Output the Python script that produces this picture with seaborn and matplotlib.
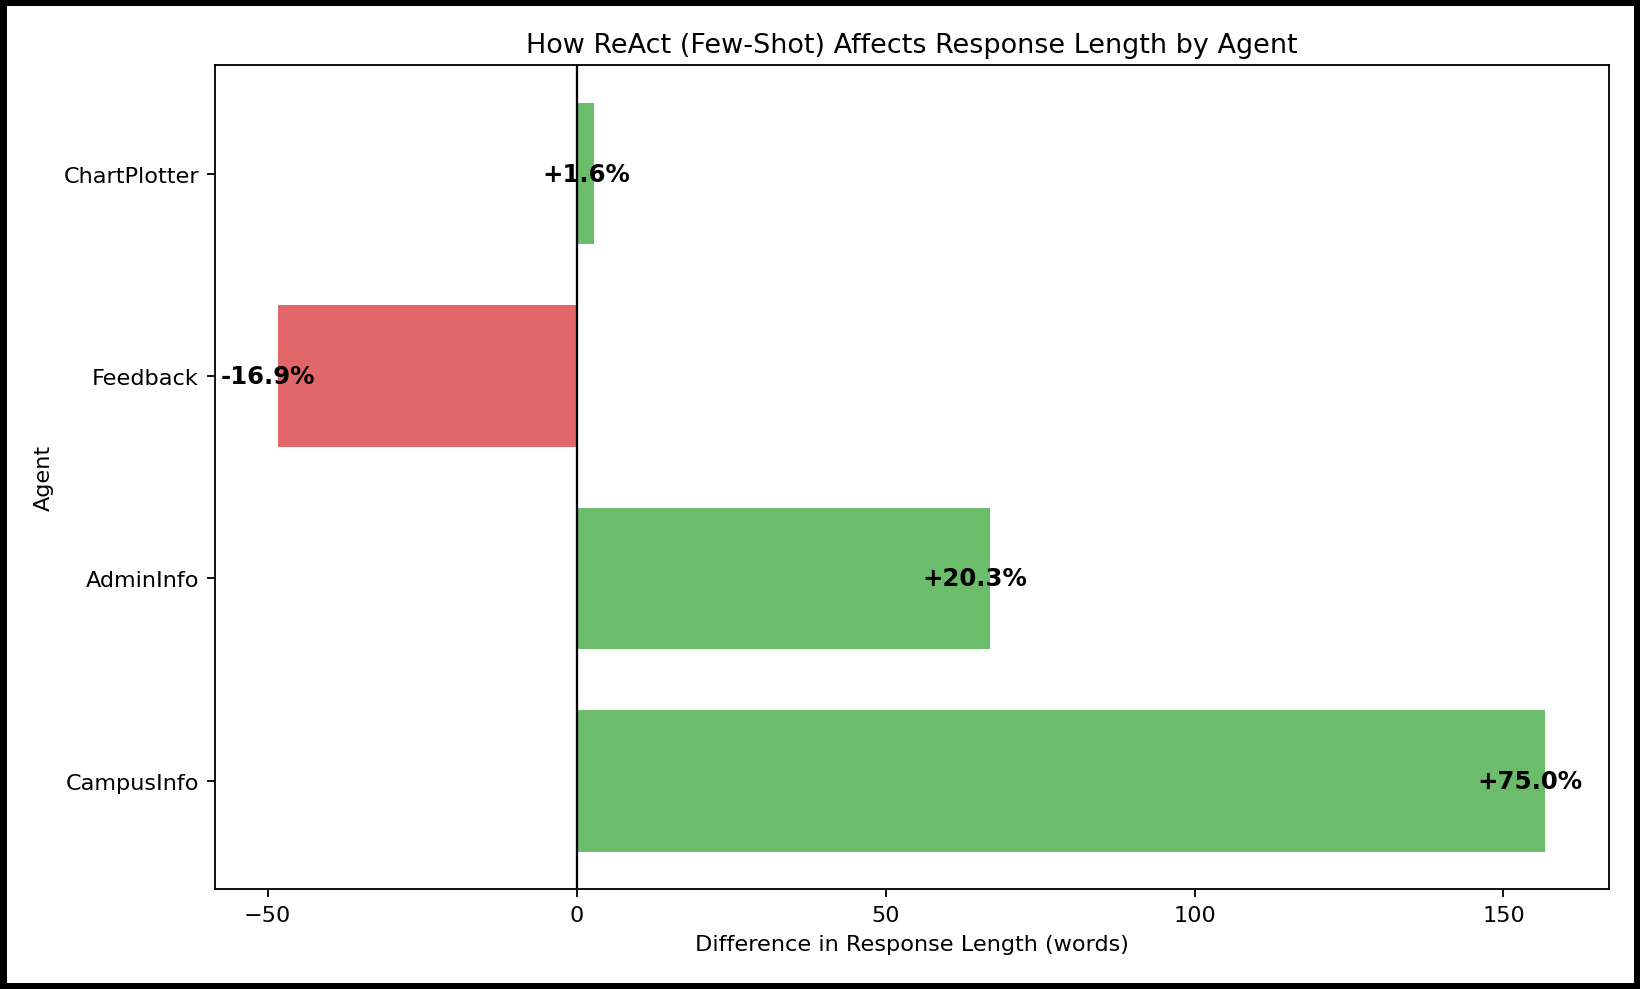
import matplotlib
matplotlib.use("Agg")
import matplotlib.pyplot as plt
import seaborn as sns
import pandas as pd

agents = ["ChartPlotter", "Feedback", "AdminInfo", "CampusInfo"]
diff_words = [2.75, -48.3, 66.9, 156.8]
pct_change = [1.6, -16.9, 20.3, 75.0]

df = pd.DataFrame({"Agent": agents, "Diff": diff_words, "Pct": pct_change})
colors = {a: ("tab:green" if d >= 0 else "tab:red") for a, d in zip(agents, diff_words)}

fig, ax = plt.subplots(figsize=(10, 990 / 164), dpi=164)
fig.subplots_adjust(left=0.131, right=0.981, top=0.933, bottom=0.101)

sns.barplot(data=df, y="Agent", x="Diff", hue="Agent", palette=colors,
            order=agents, orient="h", width=0.7, alpha=0.7, legend=False,
            saturation=1, ax=ax, errorbar=None)

ax.axvline(0, color="black", linewidth=1)

for i, (d, p) in enumerate(zip(diff_words, pct_change)):
    ax.text(d + 6, i, f"{p:+.1f}%", ha="right", va="center",
            fontsize=10.7, fontweight="bold", color="black")

ax.set_ylim(3.535, -0.535)
ax.set_title("How ReAct (Few-Shot) Affects Response Length by Agent", fontsize=11.85)
ax.set_xlabel("Difference in Response Length (words)", fontsize=9.85)
ax.set_ylabel("Agent", fontsize=9.85)
ax.set_xticks([-50, 0, 50, 100, 150])
ax.tick_params(labelsize=9.85)

fig.patch.set_edgecolor("black")
fig.patch.set_linewidth(5.7)

fig.savefig("out.png", dpi=164, edgecolor=fig.get_edgecolor())
